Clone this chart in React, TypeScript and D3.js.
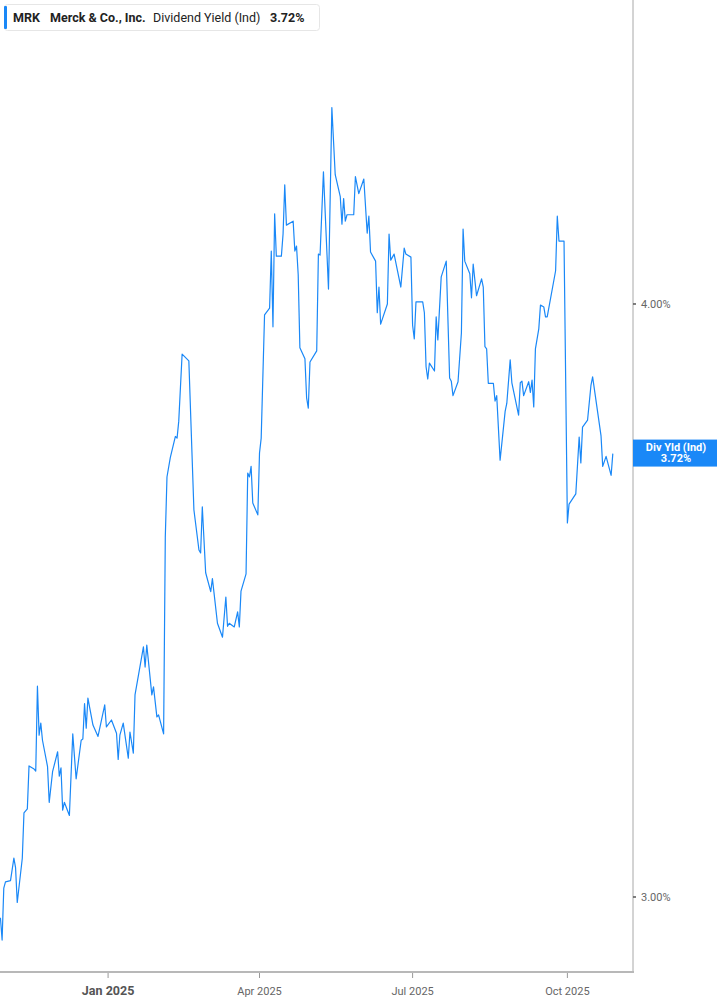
import * as d3 from 'd3';

// Merck dividend yield (indicated)
const dates = [
  '2024-10-29', '2024-10-30', '2024-10-31', '2024-11-01', '2024-11-04', '2024-11-06', '2024-11-07', '2024-11-08',
  '2024-11-11', '2024-11-12', '2024-11-14', '2024-11-15', '2024-11-18', '2024-11-19', '2024-11-20', '2024-11-21',
  '2024-11-22', '2024-11-23', '2024-11-26', '2024-11-27', '2024-11-29', '2024-12-02', '2024-12-03', '2024-12-04',
  '2024-12-05', '2024-12-06', '2024-12-09', '2024-12-11', '2024-12-13', '2024-12-16', '2024-12-17', '2024-12-18',
  '2024-12-19', '2024-12-20', '2024-12-23', '2024-12-26', '2024-12-30', '2024-12-31', '2025-01-03', '2025-01-06',
  '2025-01-07', '2025-01-08', '2025-01-10', '2025-01-13', '2025-01-14', '2025-01-16', '2025-01-17', '2025-01-22',
  '2025-01-23', '2025-01-24', '2025-01-27', '2025-01-28', '2025-01-30', '2025-01-31', '2025-02-03', '2025-02-04',
  '2025-02-05', '2025-02-07', '2025-02-10', '2025-02-11', '2025-02-12', '2025-02-14', '2025-02-18', '2025-02-21',
  '2025-02-24', '2025-02-25', '2025-02-26', '2025-02-28', '2025-03-03', '2025-03-04', '2025-03-07', '2025-03-10',
  '2025-03-12', '2025-03-13', '2025-03-14', '2025-03-17', '2025-03-19', '2025-03-20', '2025-03-21', '2025-03-24',
  '2025-03-25', '2025-03-26', '2025-03-27', '2025-03-28', '2025-03-31', '2025-04-01', '2025-04-02', '2025-04-04',
  '2025-04-07', '2025-04-08', '2025-04-09', '2025-04-10', '2025-04-11', '2025-04-14', '2025-04-15', '2025-04-16',
  '2025-04-17', '2025-04-21', '2025-04-22', '2025-04-23', '2025-04-24', '2025-04-25', '2025-04-28', '2025-04-29',
  '2025-04-30', '2025-05-01', '2025-05-05', '2025-05-06', '2025-05-07', '2025-05-09', '2025-05-12', '2025-05-14',
  '2025-05-16', '2025-05-19', '2025-05-20', '2025-05-21', '2025-05-22', '2025-05-23', '2025-05-27', '2025-05-28',
  '2025-05-30', '2025-06-02', '2025-06-04', '2025-06-05', '2025-06-06', '2025-06-09', '2025-06-10', '2025-06-11',
  '2025-06-12', '2025-06-16', '2025-06-17', '2025-06-18', '2025-06-20', '2025-06-24', '2025-06-26', '2025-06-27',
  '2025-06-30', '2025-07-01', '2025-07-02', '2025-07-03', '2025-07-07', '2025-07-08', '2025-07-09', '2025-07-10',
  '2025-07-11', '2025-07-14', '2025-07-15', '2025-07-16', '2025-07-18', '2025-07-21', '2025-07-23', '2025-07-24',
  '2025-07-25', '2025-07-28', '2025-07-30', '2025-07-31', '2025-08-01', '2025-08-04', '2025-08-05', '2025-08-06',
  '2025-08-08', '2025-08-11', '2025-08-12', '2025-08-13', '2025-08-14', '2025-08-15', '2025-08-18', '2025-08-19',
  '2025-08-20', '2025-08-22', '2025-08-25', '2025-08-26', '2025-08-28', '2025-08-29', '2025-09-02', '2025-09-03',
  '2025-09-04', '2025-09-05', '2025-09-08', '2025-09-09', '2025-09-10', '2025-09-11', '2025-09-12', '2025-09-14',
  '2025-09-15', '2025-09-17', '2025-09-18', '2025-09-19', '2025-09-24', '2025-09-25', '2025-09-26', '2025-09-29',
  '2025-10-01', '2025-10-02', '2025-10-06', '2025-10-08', '2025-10-09', '2025-10-10', '2025-10-13', '2025-10-15',
  '2025-10-16', '2025-10-21', '2025-10-22', '2025-10-24', '2025-10-27', '2025-10-28',
];

const yields = [
  2.970, 2.938, 3.013, 3.022, 3.024, 3.057, 3.043, 2.992,
  3.057, 3.125, 3.131, 3.197, 3.192, 3.189, 3.323, 3.245,
  3.264, 3.237, 3.196, 3.141, 3.188, 3.219, 3.181, 3.194,
  3.129, 3.141, 3.121, 3.247, 3.177, 3.237, 3.239, 3.295,
  3.256, 3.304, 3.261, 3.243, 3.293, 3.258, 3.269, 3.248,
  3.207, 3.245, 3.264, 3.209, 3.250, 3.217, 3.309, 3.387,
  3.354, 3.390, 3.309, 3.322, 3.274, 3.277, 3.247, 3.572,
  3.678, 3.713, 3.751, 3.748, 3.779, 3.904, 3.891, 3.620,
  3.550, 3.545, 3.625, 3.511, 3.479, 3.501, 3.426, 3.403,
  3.470, 3.421, 3.426, 3.420, 3.445, 3.420, 3.480, 3.509,
  3.685, 3.678, 3.697, 3.632, 3.611, 3.721, 3.748, 3.979,
  3.992, 4.104, 3.956, 4.179, 4.094, 4.094, 4.138, 4.238,
  4.156, 4.164, 4.104, 4.114, 4.057, 3.916, 3.895, 3.822,
  3.803, 3.889, 3.910, 4.098, 4.096, 4.265, 4.029, 4.400,
  4.259, 4.214, 4.158, 4.210, 4.164, 4.177, 4.177, 4.255,
  4.220, 4.250, 4.140, 4.174, 4.102, 4.084, 3.983, 4.033,
  3.961, 4.000, 4.138, 4.086, 4.098, 4.033, 4.110, 4.098,
  4.092, 3.959, 3.933, 4.004, 4.004, 3.983, 3.880, 3.857,
  3.887, 3.872, 3.975, 3.931, 4.053, 4.084, 3.859, 3.853,
  3.826, 3.852, 3.944, 4.148, 4.084, 4.059, 4.012, 4.078,
  4.016, 4.049, 4.033, 3.918, 3.914, 3.849, 3.849, 3.816,
  3.826, 3.708, 3.797, 3.812, 3.893, 3.850, 3.790, 3.850,
  3.853, 3.826, 3.852, 3.832, 3.855, 3.805, 3.914, 3.952,
  3.998, 3.994, 3.975, 3.975, 4.065, 4.174, 4.124, 4.124,
  3.597, 3.630, 3.648, 3.750, 3.703, 3.768, 3.781, 3.845,
  3.861, 3.752, 3.697, 3.715, 3.681, 3.720,
];

const xTickDates = ['2025-01-01', '2025-04-01', '2025-07-01', '2025-10-01'];
const xTickLabels = ['Jan 2025', 'Apr 2025', 'Jul 2025', 'Oct 2025'];
const yTickValues = [3, 4];

const ticker = 'MRK';
const company = 'Merck & Co., Inc.';
const metric = 'Dividend Yield (Ind)';
const lastLabel = 'Div Yld (Ind)';

const W = 717;
const H = 1005;
const plotRight = 633;
const plotBottom = 972;
const blue = '#1a88f7';
const font = "Roboto, 'Noto Sans', Arial, sans-serif";

const parse = d3.timeParse('%Y-%m-%d');

export default function App() {
  const points = dates.map((d, i) => ({ date: parse(d) as Date, value: yields[i] }));

  const x = d3
    .scaleTime()
    .domain([new Date(2024, 9, 28, 18), new Date(2025, 10, 9)])
    .range([0, plotRight]);

  const y = d3.scaleLog().domain([2.8928, 4.6356]).range([plotBottom, 0]);

  const line = d3
    .line<{ date: Date; value: number }>()
    .x(d => x(d.date))
    .y(d => y(d.value));

  const last = points[points.length - 1];
  const lastY = y(last.value);
  const pct = d3.format('.2f');

  return (
    <div style={{ position: 'absolute', left: 0, top: 0 }}>
      <style>{'body{margin:0}'}</style>
      <svg width={W} height={H} style={{ display: 'block', background: '#fff', fontFamily: font }}>
        {/* right axis */}
        <line x1={plotRight} x2={plotRight} y1={0} y2={plotBottom} stroke="#a8a8a8" strokeWidth={1} />
        {yTickValues.map(v => (
          <g key={v} transform={`translate(${plotRight},${y(v)})`}>
            <line x1={0} x2={3} stroke="#555" strokeWidth={1.5} />
            <text x={8} dy="0.35em" fontSize={11} fill="#666">
              {pct(v)}%
            </text>
          </g>
        ))}

        {/* bottom axis */}
        <line x1={0} x2={plotRight + 1} y1={plotBottom} y2={plotBottom} stroke="#b8b8b8" strokeWidth={2} />
        {xTickDates.map((d, i) => {
          const px = x(parse(d) as Date);
          const bold = i === 0;
          return (
            <g key={d} transform={`translate(${px},${plotBottom})`}>
              <line y1={1} y2={6} stroke="#999" strokeWidth={1} />
              <text
                y={19}
                dy="0.35em"
                textAnchor="middle"
                fontSize={bold ? 12.5 : 11}
                fontWeight={bold ? 700 : 400}
                fill={bold ? '#555' : '#666'}
              >
                {xTickLabels[i]}
              </text>
            </g>
          );
        })}

        {/* series */}
        <path d={line(points) ?? ''} fill="none" stroke={blue} strokeWidth={1.2} strokeLinejoin="round" />

        {/* last value tag */}
        <rect x={plotRight} y={lastY - 14} width={W - plotRight} height={27} fill={blue} />
        <text x={(plotRight + W) / 2 + 1} y={lastY - 6} dy="0.35em" textAnchor="middle" fontSize={11} fontWeight={700} fill="#fff">
          {lastLabel}
        </text>
        <text x={(plotRight + W) / 2 + 1} y={lastY + 5} dy="0.35em" textAnchor="middle" fontSize={11} fontWeight={700} fill="#fff">
          {pct(last.value)}%
        </text>

        {/* legend */}
        <rect x={4.5} y={4.5} width={315} height={26} rx={3} fill="#fff" stroke="#e6e6e6" />
        <rect x={4} y={6} width={3} height={23} rx={1} fill={blue} />
        <text y={17.5} dy="0.35em" fontSize={12.5} fill="#222">
          <tspan x={13} fontWeight={700}>{ticker}</tspan>
          <tspan x={50} fontWeight={700}>{company}</tspan>
          <tspan x={153} fontWeight={400}>{metric}</tspan>
          <tspan x={270} fontWeight={700}>{pct(last.value)}%</tspan>
        </text>
      </svg>
    </div>
  );
}
